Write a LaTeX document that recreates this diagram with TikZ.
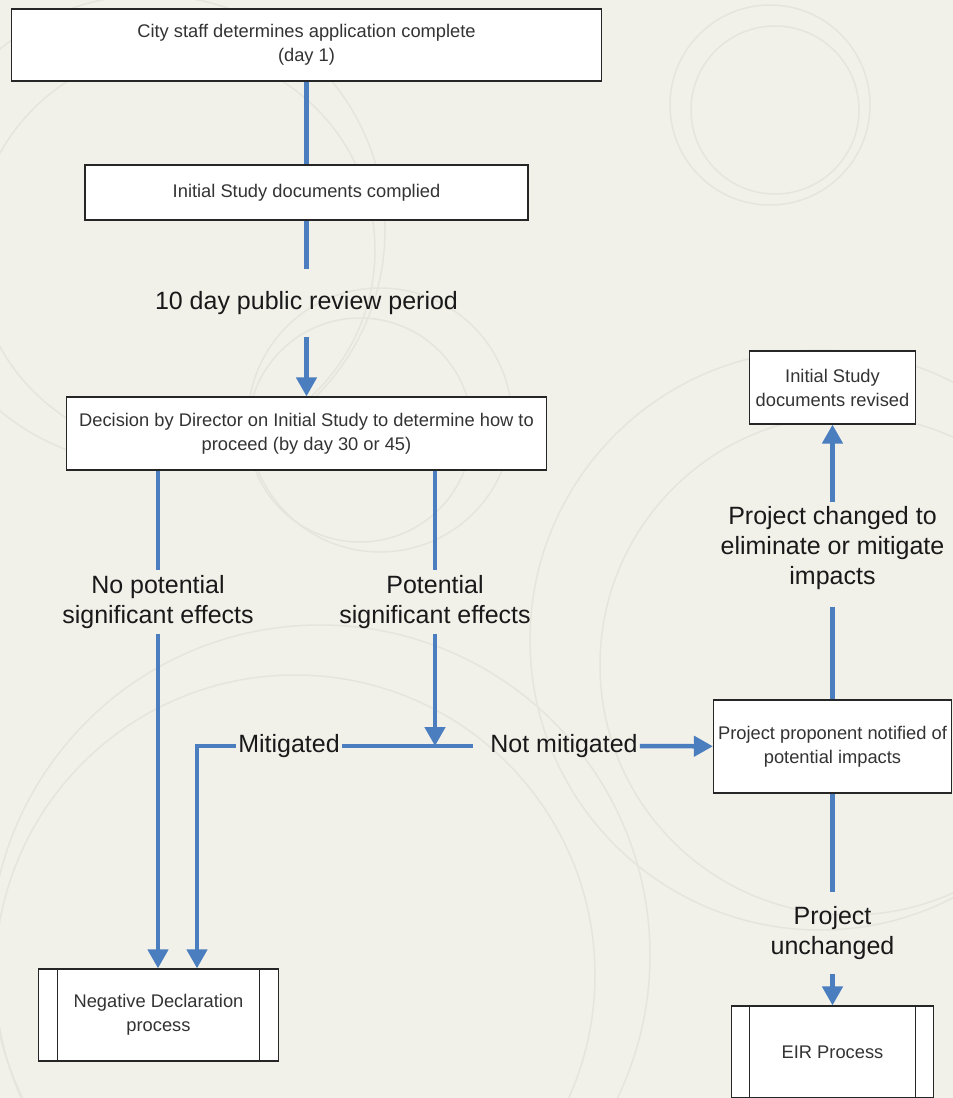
\documentclass[tikz,border=0pt]{standalone}
\usepackage{fontspec}
\setmainfont{Liberation Sans}
\usetikzlibrary{arrows.meta,positioning}
\definecolor{flowblue}{HTML}{4A7EBF}
\definecolor{paper}{HTML}{F1F1EA}
\definecolor{ring}{HTML}{E5E5DD}
\definecolor{boxtext}{HTML}{333333}
\tikzset{
	stepbox/.style={
			draw=black!85, fill=white, line width=1.2pt, inner sep=0pt,
			align=center, text=boxtext, font=\fontsize{18.3}{24}\selectfont
		},
	procbox/.style={
			stepbox,
			path picture={
					\draw[line width=1.2pt, black!85]
					([xshift=#1]path picture bounding box.north west) -- ([xshift=#1]path picture bounding box.south west)
					([xshift=-#1]path picture bounding box.north east) -- ([xshift=-#1]path picture bounding box.south east);
				}
		},
	flowlabel/.style={
			align=center, text=black!90, inner xsep=2pt, inner ysep=4pt,
			font=\fontsize{25}{30}\selectfont
		},
	flow/.style={draw=flowblue, line width=4.5pt},
	flowarrow/.style={flow, -{Triangle[width=20pt,length=19pt]}}
}

\begin{document}
\begin{tikzpicture}[x=1pt,y=-1pt]
	\useasboundingbox (0,0) rectangle (953,1098);
	\clip (0,0) rectangle (953,1098);
	\fill[paper] (0,0) rectangle (953,1098);
	\foreach \cx/\cy/\r in {770/105/100, 775/110/84, 150/230/235, 175/250/200, 380/420/132, 360/430/112,
			820/640/290, 850/665/250, 320/955/330, 295/975/300}
		\draw[ring, line width=1.5pt] (\cx,\cy) circle (\r);

	\node[stepbox, minimum width=590pt, minimum height=72pt] (b1) at (306.5,45) {City staff determines application complete\\(day 1)};
	\node[stepbox, minimum width=443pt, minimum height=55pt] (b2) at (306.5,192.5) {Initial Study documents complied};
	\node[flowlabel, inner ysep=22pt] (review) at (306.5,303) {10 day public review period};
	\node[stepbox, minimum width=480pt, minimum height=73pt] (b3) at (306.5,433.5) {Decision by Director on Initial Study to determine how to\\proceed (by day 30 or 45)};

	\node[flowlabel, inner ysep=5pt] (nosig) at (158,602) {No potential\\significant effects};
	\node[flowlabel, inner ysep=5pt] (sig) at (435,602) {Potential\\significant effects};
	\node[flowlabel] (mit) at (289,746) {Mitigated};
	\node[flowlabel] (notmit) at (564,746) {Not mitigated};
	\coordinate (join) at (435,746);
	\coordinate (mcorner) at (197,746);

	\node[procbox=19pt, minimum width=240pt, minimum height=92pt] (negdec) at (158.5,1015) {Negative Declaration\\process};
	\node[stepbox, minimum width=238pt, minimum height=93pt] (notify) at (832.5,746.5) {Project proponent notified of\\potential impacts};
	\node[flowlabel] (changed) at (832.5,548) {Project changed to\\eliminate or mitigate\\impacts};
	\node[stepbox, minimum width=166pt, minimum height=73pt] (revised) at (832.5,387.5) {Initial Study\\documents revised};
	\node[flowlabel, inner ysep=14pt] (unch) at (832.5,933) {Project\\unchanged};
	\node[procbox=18pt, minimum width=202pt, minimum height=92pt] (eir) at (832.5,1052) {EIR Process};

	\draw[flow] (b1) -- (b2);
	\draw[flow] (b2) -- (review);
	\draw[flowarrow] (review) -- (b3);
	\draw[flow] (b3.south -| nosig) -- (nosig);
	\draw[flowarrow] (nosig) -- (negdec.north -| nosig);
	\draw[flow] (b3.south -| sig) -- (sig);
	\draw[flowarrow] (sig) -- (join);
	\draw[flow, shorten >=15pt] (mit) -- (notmit);
	\draw[flowarrow] (mit.west) -- (mcorner) -- (mcorner |- negdec.north);
	\draw[flowarrow] (notmit) -- (notify);
	\draw[flow, shorten >=13pt] (notify) -- (changed);
	\draw[flowarrow] (changed) -- (revised);
	\draw[flow] (notify) -- (unch);
	\draw[flowarrow] (unch) -- (eir);
\end{tikzpicture}
\end{document}
